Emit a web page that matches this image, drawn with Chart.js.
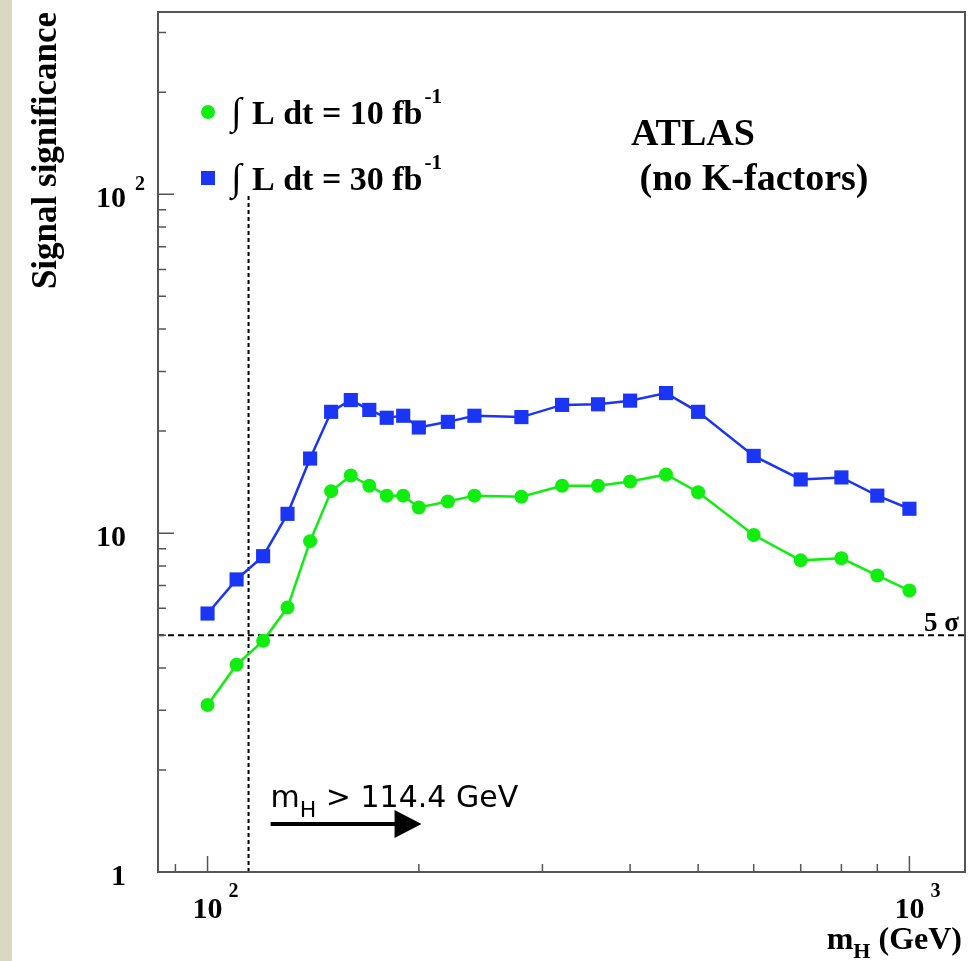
<!DOCTYPE html>
<html>
<head>
<meta charset="utf-8">
<script src="https://cdn.jsdelivr.net/npm/chart.js@4"></script>
<style>
  html, body { margin: 0; padding: 0; background: #fff; }
  canvas { display: block; }
</style>
</head>
<body>
<canvas id="sigChart" width="976" height="961"></canvas>
<script>
    // Higgs mass points (GeV) and signal significance
    var masses = [100, 110, 120, 130, 140, 150, 160, 170, 180, 190, 200, 220, 240, 280, 320, 360, 400, 450, 500, 600, 700, 800, 900, 1000];
    var sig10fb = [3.11, 4.09, 4.81, 6.03, 9.47, 13.3, 14.8, 13.8, 12.9, 12.9, 11.9, 12.4, 12.9, 12.8, 13.8, 13.8, 14.2, 14.9, 13.2, 9.87, 8.31, 8.43, 7.50, 6.77];
    var sig30fb = [5.79, 7.30, 8.55, 11.4, 16.6, 22.8, 24.7, 23.1, 21.9, 22.2, 20.5, 21.3, 22.2, 22.0, 23.9, 24.0, 24.6, 25.9, 22.8, 16.9, 14.4, 14.6, 12.9, 11.8];
    var lepLimit = 114.4;     // GeV
    var discovery = 5;        // 5 sigma line

    // major tick labels: [base, exponent]
    var xTickValues = [100, 1000];
    var xTickLabels = [['10', '2'], ['10', '3']];
    var yTickValues = [1, 10, 100];
    var yTickLabels = [['1', ''], ['10', ''], ['10', '2']];

    var SERIF = "'Liberation Serif', 'Times New Roman', serif";
    var GREEN = '#10ee10';
    var BLUE = '#1a35f5';

    function toPoints(xs, ys) {
        return xs.map(function(x, i) { return {x: x, y: ys[i]}; });
    }

    // draw "base" with a raised or lowered small part after it
    function drawScript(ctx, x, y, base, small, bigFont, smallFont, dy, gap) {
        ctx.font = bigFont;
        ctx.fillText(base, x, y);
        var w = ctx.measureText(base).width;
        if (small) {
            ctx.font = smallFont;
            ctx.fillText(small, x + w + gap, y + dy);
            w += gap + ctx.measureText(small).width;
        }
        return w;
    }

    var framePlugin = {
        id: 'atlasFrame',
        beforeDraw: function(chart) {
            var ctx = chart.ctx;
            ctx.save();
            ctx.fillStyle = '#ffffff';
            ctx.fillRect(0, 0, chart.width, chart.height);
            ctx.fillStyle = '#d9d9c2';
            ctx.fillRect(0, 0, 12, chart.height);
            ctx.restore();
        },
        afterDraw: function(chart) {
            var ctx = chart.ctx;
            var a = chart.chartArea;
            var xs = chart.scales.x, ys = chart.scales.y;
            ctx.save();

            // frame
            ctx.strokeStyle = '#555';
            ctx.lineWidth = 2;
            ctx.strokeRect(a.left, a.top, a.right - a.left, a.bottom - a.top);

            // inward ticks on the log axes
            ctx.lineWidth = 1.5;
            ctx.beginPath();
            [1, 10, 100].forEach(function(dec) {
                for (var k = 1; k <= 9; k++) {
                    var v = k * dec;
                    var len = k === 1 ? 16 : 8;
                    if (v >= ys.min && v <= ys.max) {
                        var py = ys.getPixelForValue(v);
                        ctx.moveTo(a.left, py);
                        ctx.lineTo(a.left + len, py);
                    }
                }
            });
            [10, 100, 1000].forEach(function(dec) {
                for (var k = 1; k <= 9; k++) {
                    var v = k * dec;
                    var len = k === 1 ? 16 : 8;
                    if (v >= xs.min && v <= xs.max) {
                        var px = xs.getPixelForValue(v);
                        ctx.moveTo(px, a.bottom);
                        ctx.lineTo(px, a.bottom - len);
                    }
                }
            });
            ctx.stroke();

            ctx.fillStyle = '#000';
            ctx.textBaseline = 'alphabetic';

            // y tick labels
            yTickValues.forEach(function(v, i) {
                var py = ys.getPixelForValue(v);
                var lab = yTickLabels[i];
                ctx.font = 'bold 30px ' + SERIF;
                ctx.textAlign = 'right';
                ctx.fillText(lab[0], 126, py + 13);
                if (lab[1]) {
                    ctx.textAlign = 'left';
                    ctx.font = 'bold 20px ' + SERIF;
                    ctx.fillText(lab[1], 135, py - 4);
                }
            });

            // x tick labels
            ctx.textAlign = 'left';
            xTickValues.forEach(function(v, i) {
                var px = xs.getPixelForValue(v);
                var lab = xTickLabels[i];
                ctx.font = 'bold 30px ' + SERIF;
                var w = ctx.measureText(lab[0]).width;
                drawScript(ctx, px - w / 2, 918, lab[0], lab[1], 'bold 30px ' + SERIF, 'bold 20px ' + SERIF, -21, 6);
            });

            // axis titles
            ctx.save();
            ctx.translate(56, 12);
            ctx.rotate(-Math.PI / 2);
            ctx.textAlign = 'right';
            ctx.font = 'bold 35px ' + SERIF;
            ctx.fillText('Signal significance', 0, 0);
            ctx.restore();

            ctx.font = 'bold 32px ' + SERIF;
            var wm = ctx.measureText('m').width;
            ctx.font = 'bold 22px ' + SERIF;
            var wh = ctx.measureText('H').width;
            ctx.font = 'bold 32px ' + SERIF;
            var wg = ctx.measureText(' (GeV)').width;
            var x0 = 962 - wm - wh - wg;
            ctx.fillText('m', x0, 949);
            ctx.font = 'bold 22px ' + SERIF;
            ctx.fillText('H', x0 + wm, 958);
            ctx.font = 'bold 32px ' + SERIF;
            ctx.fillText(' (GeV)', x0 + wm + wh, 949);

            // legend
            var legend = [
                {style: 'circle', color: GREEN, text: '10', y: 112},
                {style: 'rect', color: BLUE, text: '30', y: 178}
            ];
            legend.forEach(function(item) {
                ctx.fillStyle = item.color;
                if (item.style === 'circle') {
                    ctx.beginPath();
                    ctx.arc(208, item.y, 7, 0, Math.PI * 2);
                    ctx.fill();
                } else {
                    ctx.fillRect(201, item.y - 7, 14, 14);
                }
                ctx.fillStyle = '#000';
                ctx.font = '38px ' + SERIF;
                ctx.fillText('\u222B', 231, item.y + 12);
                drawScript(ctx, 252, item.y + 12, 'L dt = ' + item.text + ' fb', '-1',
                    'bold 34px ' + SERIF, 'bold 21px ' + SERIF, -21, 2);
            });

            // ATLAS label
            ctx.font = 'bold 38px ' + SERIF;
            ctx.fillText('ATLAS', 631, 145);
            ctx.fillText(' (no K-factors)', 630, 190);

            // 5 sigma label
            ctx.font = 'bold 27px ' + SERIF;
            ctx.textAlign = 'right';
            ctx.fillText('5 \u03C3', 959, 631);
            ctx.textAlign = 'left';

            // LEP limit note with arrow
            var lx = xs.getPixelForValue(lepLimit) + 22;
            ctx.font = '30px "DejaVu Sans", sans-serif';
            ctx.fillText('m', lx, 807);
            var w1 = ctx.measureText('m').width;
            ctx.font = '22px "DejaVu Sans", sans-serif';
            ctx.fillText('H', lx + w1, 817);
            var w2 = ctx.measureText('H').width;
            ctx.font = '30px "DejaVu Sans", sans-serif';
            ctx.fillText(' > 114.4 GeV', lx + w1 + w2, 807);

            ctx.strokeStyle = '#000';
            ctx.lineWidth = 4;
            ctx.beginPath();
            ctx.moveTo(lx, 824);
            ctx.lineTo(lx + 126, 824);
            ctx.stroke();
            ctx.beginPath();
            ctx.moveTo(lx + 124, 810);
            ctx.lineTo(lx + 151, 824);
            ctx.lineTo(lx + 124, 838);
            ctx.closePath();
            ctx.fill();

            ctx.restore();
        }
    };

    var ctx = document.getElementById('sigChart').getContext('2d');
    var sigChart = new Chart(ctx, {
        type: 'line',
        data: {
            datasets: [{
                label: '30 fb-1',
                data: toPoints(masses, sig30fb),
                borderColor: BLUE,
                backgroundColor: BLUE,
                pointBackgroundColor: BLUE,
                pointBorderWidth: 0,
                pointStyle: 'rect',
                pointRadius: 10,
                borderWidth: 2.5,
                tension: 0
            }, {
                label: '10 fb-1',
                data: toPoints(masses, sig10fb),
                borderColor: GREEN,
                backgroundColor: GREEN,
                pointBackgroundColor: GREEN,
                pointBorderWidth: 0,
                pointStyle: 'circle',
                pointRadius: 7,
                borderWidth: 2.5,
                tension: 0
            }, {
                label: '5 sigma',
                data: [{x: 85, y: discovery}, {x: 1200, y: discovery}],
                borderColor: '#000',
                borderWidth: 2,
                borderDash: [6, 4],
                pointRadius: 0
            }, {
                label: 'LEP limit',
                data: [{x: lepLimit, y: 1}, {x: lepLimit, y: 99}],
                borderColor: '#000',
                borderWidth: 2,
                borderDash: [4, 3],
                pointRadius: 0
            }]
        },
        options: {
            responsive: false,
            animation: false,
            layout: {
                padding: {left: 158, right: 11, top: 12, bottom: 89}
            },
            plugins: {
                legend: {display: false},
                tooltip: {enabled: false}
            },
            scales: {
                x: {type: 'logarithmic', min: 85, max: 1200, display: false},
                y: {type: 'logarithmic', min: 1, max: 345, display: false}
            }
        },
        plugins: [framePlugin]
    });
</script>
</body>
</html>
